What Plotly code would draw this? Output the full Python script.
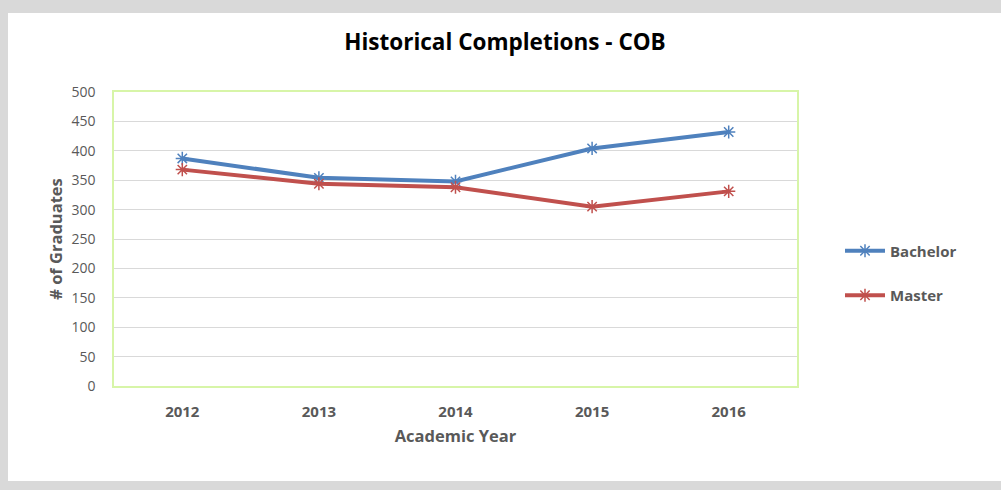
import plotly.graph_objects as go

years = ["2012", "2013", "2014", "2015", "2016"]
bachelor = [387, 354, 348, 404, 432]
master = [368, 344, 338, 305, 331]

W, H = 1001, 490
L, R, T, B = 114, 204, 92, 104
pw = W - L - R
ph = H - T - B

fig = go.Figure()
fig.add_trace(go.Scatter(
    x=years, y=bachelor, name="Bachelor", mode="lines+markers",
    line=dict(color="#4f81bd", width=4),
    marker=dict(symbol="asterisk-open", size=11, line=dict(color="#4f81bd", width=1.5)),
    legendgroup="a"))
fig.add_trace(go.Scatter(
    x=years, y=master, name="Master", mode="lines+markers",
    line=dict(color="#c0504d", width=4),
    marker=dict(symbol="asterisk-open", size=11, line=dict(color="#c0504d", width=1.5)),
    legendgroup="b"))

font_fam = "'Open Sans', Lato, sans-serif"

# white card over gray frame
fig.add_shape(type="rect", xref="paper", yref="paper", layer="below",
              x0=(8 - L) / pw, x1=(W + 20 - L) / pw,
              y0=(H - B - 481) / ph, y1=(H - B - 13) / ph,
              fillcolor="white", line=dict(width=0))

fig.update_layout(
    width=W, height=H,
    margin=dict(l=L, r=R, t=T, b=B),
    paper_bgcolor="#d9d9d9",
    plot_bgcolor="white",
    font=dict(family=font_fam, color="#595959"),
    title=dict(text="Historical Completions - COB", x=505 / W, xanchor="center",
               xref="container", y=1 - 42 / H, yref="container", yanchor="middle",
               font=dict(size=22.5, color="black", family=font_fam, weight="bold")),
    xaxis=dict(type="category", range=[-0.5, 4.5], showgrid=False,
               showline=True, linecolor="#d7f5a8", linewidth=1.5, mirror=True,
               ticks="", ticklabelstandoff=11,
               tickfont=dict(size=15, color="#595959", family=font_fam, weight="bold"),
               title=dict(text="Academic Year", standoff=11,
                          font=dict(size=16.5, color="#595959", family=font_fam, weight="bold"))),
    yaxis=dict(range=[0, 500], dtick=50, showgrid=True, gridcolor="#d9d9d9", gridwidth=1,
               zeroline=False, showline=True, linecolor="#d7f5a8", linewidth=1.5, mirror=True,
               ticks="", ticklabelstandoff=14,
               tickfont=dict(size=14, color="#595959", family=font_fam),
               title=dict(text="# of Graduates", standoff=5,
                          font=dict(size=16.5, color="#595959", family=font_fam, weight="bold"))),
    legend=dict(x=(840 - L) / pw, y=(H - B - 273) / ph, xanchor="left", yanchor="middle",
                bgcolor="rgba(0,0,0,0)", tracegroupgap=22, itemwidth=40,
                font=dict(size=15, color="#595959", family=font_fam, weight="bold")),
)

fig.write_html("out.html", config={"displayModeBar": False},
               post_script="document.body.style.margin='0';document.body.style.overflow='hidden';")
